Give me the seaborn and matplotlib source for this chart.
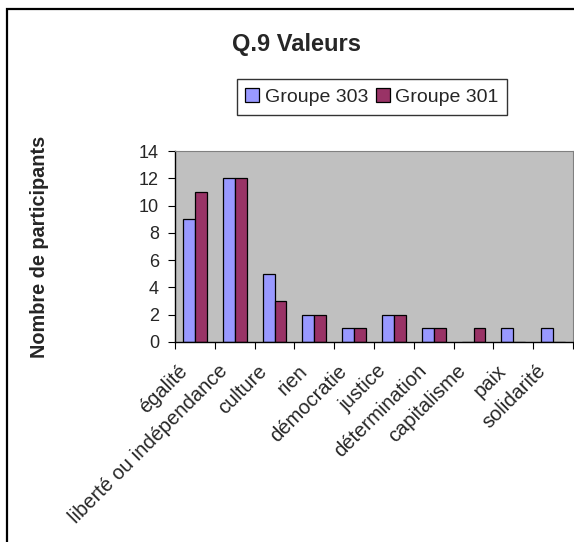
import matplotlib
matplotlib.use("Agg")
import matplotlib.pyplot as plt
import matplotlib.transforms as mtransforms
from matplotlib.patches import Rectangle, Patch
import numpy as np
import pandas as pd
import seaborn as sns

# Data
categories = [
    "égalité",
    "liberté ou indépendance",
    "culture",
    "rien",
    "démocratie",
    "justice",
    "détermination",
    "capitalisme",
    "paix",
    "solidarité",
]
groupe_303 = [9, 12, 5, 2, 1, 2, 1, 0, 1, 1]
groupe_301 = [11, 12, 3, 2, 1, 2, 1, 1, 0, 0]
series_names = ["Groupe 303", "Groupe 301"]
yticks = [0, 2, 4, 6, 8, 10, 12, 14]

colors = ["#9999FF", "#993366"]

sns.set_theme(style="white")
plt.rcParams["font.family"] = ["Liberation Sans", "DejaVu Sans"]

df = pd.DataFrame({
    "categorie": categories * 2,
    "valeur": groupe_303 + groupe_301,
    "groupe": [series_names[0]] * len(categories) + [series_names[1]] * len(categories),
})

fig = plt.figure(figsize=(5.74, 5.42), dpi=100)
fig.patch.set_facecolor("white")
ax = fig.add_axes([175 / 574, 1 - 342 / 542, (573 - 175) / 574, (342 - 151) / 542])

sns.barplot(
    data=df, x="categorie", y="valeur", hue="groupe",
    palette=colors, width=0.6, gap=0, dodge=True,
    edgecolor="black", linewidth=0.9, saturation=1,
    ax=ax, legend=False,
)

ax.set_facecolor("#C0C0C0")
ax.set_ylim(0, 14)
ax.set_xlim(-0.5, len(categories) - 0.5)
ax.set_yticks(yticks)
ax.set_xlabel("")
ax.set_ylabel("")

for side in ["top", "right"]:
    ax.spines[side].set_color("#808080")
    ax.spines[side].set_linewidth(0.8)
for side in ["left", "bottom"]:
    ax.spines[side].set_color("black")
    ax.spines[side].set_linewidth(1.0)

# y ticks
ax.tick_params(axis="y", direction="out", length=5, width=0.8, color="black",
               pad=6.5, labelsize=13, left=True)
# x ticks: marks on category boundaries, labels at centers
ax.set_xticks(np.arange(len(categories) + 1) - 0.5, minor=True)
ax.tick_params(axis="x", which="minor", direction="out", length=5, width=0.8,
               color="black", bottom=True)
ax.tick_params(axis="x", which="major", length=0, pad=14, labelsize=14.5)
ax.set_xticks(np.arange(len(categories)))
ax.set_xticklabels(categories, rotation=45, ha="right", va="top",
                   rotation_mode="anchor")
offset = mtransforms.ScaledTranslation(-17 / 100, 0, fig.dpi_scale_trans)
for lab in ax.get_xticklabels():
    lab.set_transform(lab.get_transform() + offset)

# Title and y label
fig.text(297 / 574, 1 - 45 / 542, "Q.9 Valeurs", ha="center", va="center",
         fontsize=17, fontweight="bold")
fig.text(40 / 574, 1 - 247 / 542, "Nombre de participants", rotation=90,
         ha="center", va="center", fontsize=14.3, fontweight="bold")

# Legend
handles = [Patch(facecolor=c, edgecolor="black", linewidth=0.9) for c in colors]
leg = fig.legend(handles, series_names, loc="center",
                 bbox_to_anchor=(372 / 574, 1 - 97 / 542), ncol=2,
                 fontsize=14, frameon=True, fancybox=False,
                 handlelength=0.7, handleheight=0.7, handletextpad=0.3,
                 columnspacing=0.4, borderpad=0.45, borderaxespad=0)
leg.get_frame().set_edgecolor("black")
leg.get_frame().set_linewidth(1.0)

# Chart area border
fig.patches.append(Rectangle((7 / 574, -0.1), 1.2, 1 - 9 / 542 + 0.1,
                             transform=fig.transFigure, fill=False,
                             edgecolor="black", linewidth=1.6))

fig.savefig("out.png", dpi=100)
